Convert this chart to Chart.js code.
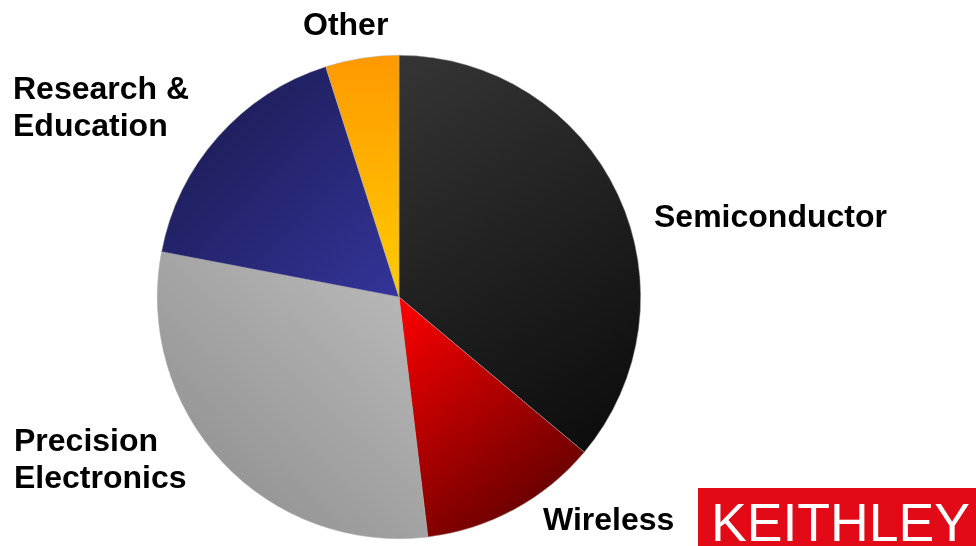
<!DOCTYPE html>
<html>
<head>
<meta charset="utf-8">
<style>
  html, body { margin: 0; padding: 0; background: #ffffff; }
  #wrap { width: 976px; height: 546px; position: relative; }
</style>
<script src="https://cdn.jsdelivr.net/npm/chart.js@4.4.1/dist/chart.umd.min.js"></script>
</head>
<body>
<div id="wrap"><canvas id="c" width="976" height="546"></canvas></div>
<script>
const categories = ["Semiconductor", "Wireless", "Precision Electronics", "Research & Education", "Other"];
const shares = [36.1, 12.0, 29.9, 17.1, 4.9];
const labelLines = [["Semiconductor"], ["Wireless"], ["Precision", "Electronics"], ["Research &", "Education"], ["Other"]];
const logoText = "KEITHLEY";

// gradient stops per slice: [startColor, endColor, direction]
const sliceColors = [
  ["#353535", "#0a0a0a", "tl-br"],
  ["#ff0000", "#4a0000", "tl-br"],
  ["#bdbdbd", "#8a8a8a", "tr-bl"],
  ["#18184a", "#34349a", "tl-br"],
  ["#ff9900", "#ffcc00", "t-b"]
];

function sliceGradient(context) {
  const chart = context.chart;
  const i = context.dataIndex;
  const area = chart.chartArea;
  const c = sliceColors[i];
  if (!area || i === undefined) return c[0];
  const cx = (area.left + area.right) / 2;
  const cy = (area.top + area.bottom) / 2;
  const r = Math.min(area.right - area.left, area.bottom - area.top) / 2;
  const total = shares.reduce((a, b) => a + b, 0);
  let before = 0;
  for (let k = 0; k < i; k++) before += shares[k];
  const a0 = -Math.PI / 2 + before / total * 2 * Math.PI;
  const a1 = a0 + shares[i] / total * 2 * Math.PI;
  let minX = cx, maxX = cx, minY = cy, maxY = cy;
  for (let s = 0; s <= 40; s++) {
    const a = a0 + (a1 - a0) * s / 40;
    const x = cx + r * Math.cos(a), y = cy + r * Math.sin(a);
    minX = Math.min(minX, x); maxX = Math.max(maxX, x);
    minY = Math.min(minY, y); maxY = Math.max(maxY, y);
  }
  const ctx = chart.ctx;
  let g;
  if (c[2] === "tl-br") g = ctx.createLinearGradient(minX, minY, maxX, maxY);
  else if (c[2] === "tr-bl") g = ctx.createLinearGradient(maxX, minY, minX, maxY);
  else g = ctx.createLinearGradient(minX, minY, minX, maxY);
  g.addColorStop(0, c[0]);
  g.addColorStop(1, c[1]);
  return g;
}

const labelPositions = [
  {x: 654, y: 227}, {x: 543, y: 530}, {x: 14, y: 451}, {x: 13, y: 99}, {x: 303, y: 35}
];

const labelsPlugin = {
  id: "sliceLabels",
  afterDraw(chart) {
    const ctx = chart.ctx;
    ctx.save();
    ctx.fillStyle = "#000000";
    ctx.font = "bold 32px 'Liberation Sans', Arial, sans-serif";
    ctx.textAlign = "left";
    ctx.textBaseline = "alphabetic";
    labelLines.forEach((lines, i) => {
      const p = labelPositions[i];
      lines.forEach((t, j) => ctx.fillText(t, p.x, p.y + j * 37));
    });
    // logo
    ctx.fillStyle = "#e20a17";
    ctx.fillRect(698, 488, 278, 58);
    ctx.fillStyle = "#ffffff";
    ctx.font = "54px 'Liberation Sans', Arial, sans-serif";
    const w = ctx.measureText(logoText).width;
    ctx.translate(711, 541);
    ctx.scale(259 / w, 1);
    ctx.fillText(logoText, 0, 0);
    ctx.restore();
  }
};

new Chart(document.getElementById("c"), {
  type: "pie",
  data: {
    labels: categories,
    datasets: [{
      data: shares,
      backgroundColor: sliceGradient,
      borderColor: "rgba(170,170,170,0.8)",
      borderWidth: 0.6
    }]
  },
  options: {
    responsive: false,
    animation: false,
    layout: { padding: { left: 0, right: 178, top: 55, bottom: 7 } },
    plugins: { legend: { display: false }, tooltip: { enabled: false } }
  },
  plugins: [labelsPlugin]
});
</script>
</body>
</html>
